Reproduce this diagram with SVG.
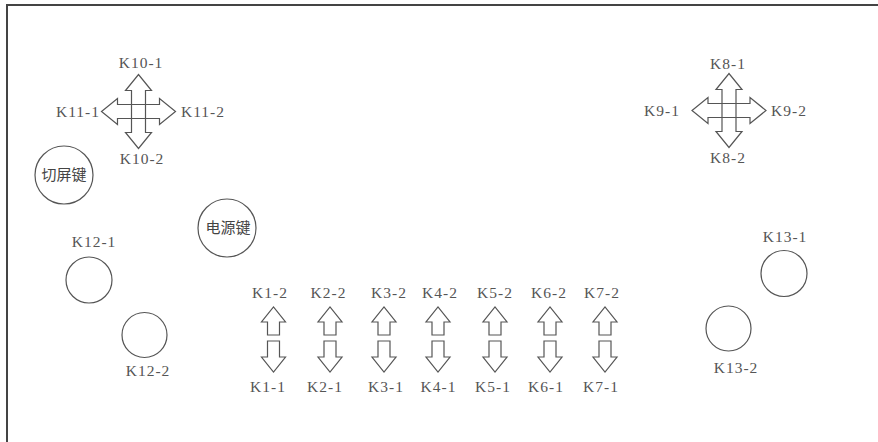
<svg xmlns="http://www.w3.org/2000/svg" xmlns:xlink="http://www.w3.org/1999/xlink" width="878" height="442" viewBox="0 0 878 442">
<style>
.ln{fill:none;stroke:#555;stroke-width:1.2}
.ar{fill:#fff;stroke:#555;stroke-width:1.2;stroke-linejoin:miter}
.lb{font-family:"Liberation Serif",serif;font-size:15.5px;letter-spacing:1px;fill:#555;text-anchor:middle}
.cn{font-family:"Noto Sans CJK SC","Noto Sans",sans-serif;font-size:15px;fill:#444;text-anchor:middle}
</style>
<defs>
<path id="arm" d="M-7,-7 V-21 H-13 L0,-37 L13,-21 H7 V-7 Z"/>
<g id="cross">
<use xlink:href="#arm" class="ar"/>
<use xlink:href="#arm" class="ar" transform="rotate(90)"/>
<use xlink:href="#arm" class="ar" transform="rotate(180)"/>
<use xlink:href="#arm" class="ar" transform="rotate(270)"/>
</g>
<g id="dbl">
<path class="ar" d="M-6,335 V322 H-12 L0,307 L12,322 H6 V335 Z"/>
<path class="ar" d="M-6,341 V357 H-12 L0,372 L12,357 H6 V341 Z"/>
</g>
</defs>
<rect width="878" height="442" fill="#fff"/>
<g id="frame">
<path d="M7,442 V5 H878" fill="none" stroke="#444" stroke-width="2"/>
</g>
<g id="cross-left">
<use xlink:href="#cross" transform="translate(138.5,111.5)"/>
<text class="lb" x="141" y="68">K10-1</text>
<text class="lb" x="142" y="163.5">K10-2</text>
<text class="lb" x="78" y="117">K11-1</text>
<text class="lb" x="203" y="117">K11-2</text>
</g>
<g id="cross-right">
<use xlink:href="#cross" transform="translate(729,110.5)"/>
<text class="lb" x="728" y="68.5">K8-1</text>
<text class="lb" x="728" y="163">K8-2</text>
<text class="lb" x="662" y="116">K9-1</text>
<text class="lb" x="789" y="116">K9-2</text>
</g>
<g id="btn-qiepin">
<circle class="ln" cx="64" cy="175" r="29"/>
<text class="cn" x="64" y="180">切屏键</text>
</g>
<g id="btn-power">
<circle class="ln" cx="227" cy="228" r="29"/>
<text class="cn" x="228" y="233">电源键</text>
</g>
<g id="K12-1">
<circle class="ln" cx="89" cy="280" r="23"/>
<text class="lb" x="94" y="247">K12-1</text>
</g>
<g id="K12-2">
<circle class="ln" cx="144.5" cy="335" r="22.5"/>
<text class="lb" x="148" y="376">K12-2</text>
</g>
<g id="K13-1">
<circle class="ln" cx="784" cy="273.5" r="23"/>
<text class="lb" x="785" y="242">K13-1</text>
</g>
<g id="K13-2">
<circle class="ln" cx="728.5" cy="328.5" r="22.5"/>
<text class="lb" x="736" y="373">K13-2</text>
</g>
<g id="K1">
<use xlink:href="#dbl" transform="translate(273.5,0)"/>
<text class="lb" x="270" y="297.5">K1-2</text>
<text class="lb" x="268" y="391.5">K1-1</text>
</g>
<g id="K2">
<use xlink:href="#dbl" transform="translate(330,0)"/>
<text class="lb" x="328.5" y="297.5">K2-2</text>
<text class="lb" x="325" y="391.5">K2-1</text>
</g>
<g id="K3">
<use xlink:href="#dbl" transform="translate(384,0)"/>
<text class="lb" x="389" y="297.5">K3-2</text>
<text class="lb" x="386" y="391.5">K3-1</text>
</g>
<g id="K4">
<use xlink:href="#dbl" transform="translate(438,0)"/>
<text class="lb" x="440" y="297.5">K4-2</text>
<text class="lb" x="438.5" y="391.5">K4-1</text>
</g>
<g id="K5">
<use xlink:href="#dbl" transform="translate(495,0)"/>
<text class="lb" x="495" y="297.5">K5-2</text>
<text class="lb" x="493" y="391.5">K5-1</text>
</g>
<g id="K6">
<use xlink:href="#dbl" transform="translate(550,0)"/>
<text class="lb" x="549" y="297.5">K6-2</text>
<text class="lb" x="546" y="391.5">K6-1</text>
</g>
<g id="K7">
<use xlink:href="#dbl" transform="translate(605,0)"/>
<text class="lb" x="602" y="297.5">K7-2</text>
<text class="lb" x="601" y="391.5">K7-1</text>
</g>
</svg>
